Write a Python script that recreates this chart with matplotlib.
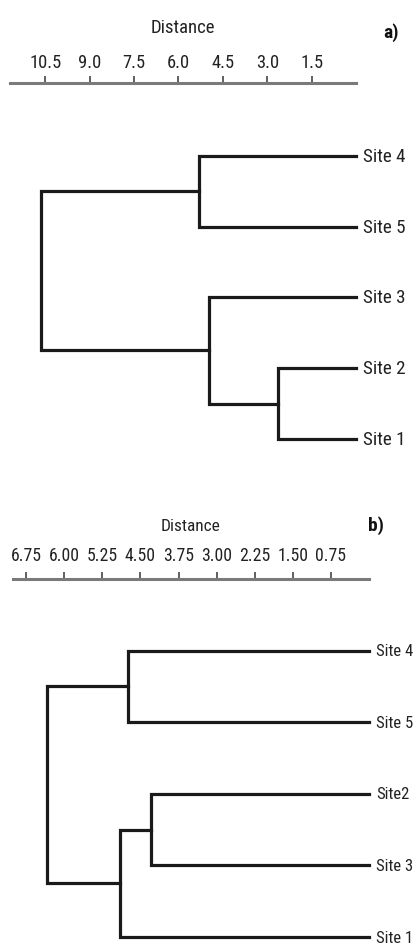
import matplotlib
matplotlib.use('Agg')
import matplotlib.pyplot as plt

plt.rcParams['font.family'] = ['Roboto Condensed', 'Liberation Sans', 'DejaVu Sans']

# panel a: leaves top to bottom, links as (child, child, distance)
# child index < n is a leaf, >= n is an earlier link
a_leaves = ['Site 4', 'Site 5', 'Site 3', 'Site 2', 'Site 1']
a_links = [(3, 4, 2.62), (0, 1, 5.29), (2, 5, 4.95), (6, 7, 10.64)]
a_ticks = [10.5, 9.0, 7.5, 6.0, 4.5, 3.0, 1.5]
a_ticklabels = ['10.5', '9.0', '7.5', '6.0', '4.5', '3.0', '1.5']

# panel b
b_leaves = ['Site 4', 'Site 5', 'Site2', 'Site 3', 'Site 1']
b_links = [(2, 3, 4.30), (0, 1, 4.74), (5, 4, 4.91), (6, 7, 6.34)]
b_ticks = [6.75, 6.00, 5.25, 4.50, 3.75, 3.00, 2.25, 1.50, 0.75]
b_ticklabels = ['6.75', '6.00', '5.25', '4.50', '3.75', '3.00', '2.25', '1.50', '0.75']

W, H = 416, 945
fig = plt.figure(figsize=(W / 100, H / 100), dpi=100)


def px_axes(x0, x1, y0, y1):
    return fig.add_axes([x0 / W, 1 - y1 / H, (x1 - x0) / W, (y1 - y0) / H])


def draw_dendro(ax, leaves, links, ticks, ticklabels, xmax, ylim, tag,
                tick_fs, lab_fs, leaf_fs, tick_pad, label_pad, tag_xy):
    n = len(leaves)
    ypos = {i: float(i) for i in range(n)}
    hgt = {i: 0.0 for i in range(n)}
    for k, (c1, c2, d) in enumerate(links):
        y1, y2 = ypos[c1], ypos[c2]
        ax.plot([hgt[c1], d, d, hgt[c2]], [y1, y1, y2, y2], color='#1a1a1a',
                lw=2.3, solid_joinstyle='miter', clip_on=False)
        ypos[n + k] = (y1 + y2) / 2
        hgt[n + k] = d
    for i, name in enumerate(leaves):
        ax.annotate(name, (0, i), xytext=(5, 0), textcoords='offset points',
                    ha='left', va='center', fontsize=leaf_fs, color='#222222',
                    annotation_clip=False)

    ax.set_xlim(xmax, 0)
    ax.set_ylim(*ylim)
    for s in ['left', 'right', 'bottom']:
        ax.spines[s].set_visible(False)
    ax.spines['top'].set_color('#7a7a7a')
    ax.spines['top'].set_linewidth(2.2)
    ax.xaxis.set_ticks_position('top')
    ax.xaxis.set_label_position('top')
    ax.set_xticks(ticks)
    ax.set_xticklabels(ticklabels)
    ax.tick_params(axis='x', direction='out', length=5, width=1.2,
                   color='#444444', labelsize=tick_fs, pad=tick_pad,
                   labelcolor='#222222')
    ax.set_yticks([])
    ax.set_xlabel('Distance', fontsize=lab_fs, color='#222222', labelpad=label_pad)
    fig.text(tag_xy[0] / W, 1 - tag_xy[1] / H, tag, fontsize=14,
             fontweight='bold', ha='center', va='center', color='#111111')


ax_a = px_axes(10, 356, 84, 470)
draw_dendro(ax_a, a_leaves, a_links, a_ticks, a_ticklabels, 11.69,
            (4.425, -1.027), 'a)', 13.3, 13.5, 13.8, 3.5, 15, (391, 33))

ax_b = px_axes(13, 369, 580, 945)
draw_dendro(ax_b, b_leaves, b_links, b_ticks, b_ticklabels, 7.01,
            (4.096, -1.0), 'b)', 12.8, 12.4, 12, 5.5, 12, (376, 526))

plt.savefig('out.png', dpi=100)
